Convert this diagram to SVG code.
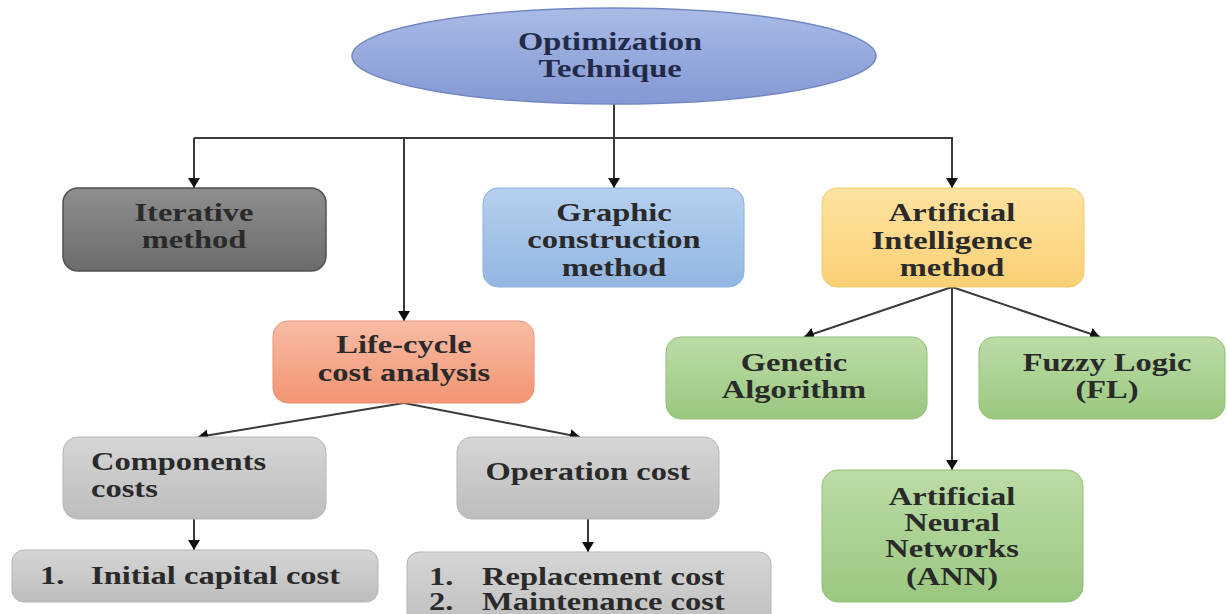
<svg xmlns="http://www.w3.org/2000/svg" width="1227" height="614" viewBox="0 0 1227 614">
<style>
.t{font-family:"Liberation Serif","Times New Roman",serif;font-weight:bold;font-size:25px;fill:#2a2a2a;text-anchor:middle}
.l{text-anchor:start}
.navy{fill:#222a4a}
.c{fill:none;stroke:#3a3a3a;stroke-width:2}
</style>
<defs>
<marker id="ah" viewBox="0 0 10 12" refX="10" refY="6" markerWidth="10" markerHeight="12" markerUnits="userSpaceOnUse" orient="auto">
<path d="M0,0 L10,6 L0,12 z" fill="#111"/>
</marker>
<linearGradient id="gEll" x1="0" y1="0" x2="0" y2="1"><stop offset="0" stop-color="#a9bbe6"/><stop offset="1" stop-color="#8498d3"/></linearGradient>
<linearGradient id="gDark" x1="0" y1="0" x2="0" y2="1"><stop offset="0" stop-color="#8e8e8e"/><stop offset="1" stop-color="#6c6c6c"/></linearGradient>
<linearGradient id="gBlue" x1="0" y1="0" x2="0" y2="1"><stop offset="0" stop-color="#b6d0ef"/><stop offset="1" stop-color="#92b6e2"/></linearGradient>
<linearGradient id="gGold" x1="0" y1="0" x2="0" y2="1"><stop offset="0" stop-color="#fde2a2"/><stop offset="1" stop-color="#fbd074"/></linearGradient>
<linearGradient id="gSalmon" x1="0" y1="0" x2="0" y2="1"><stop offset="0" stop-color="#f9bca4"/><stop offset="1" stop-color="#f29573"/></linearGradient>
<linearGradient id="gGray" x1="0" y1="0" x2="0" y2="1"><stop offset="0" stop-color="#d6d6d6"/><stop offset="1" stop-color="#bdbdbd"/></linearGradient>
<linearGradient id="gGreen" x1="0" y1="0" x2="0" y2="1"><stop offset="0" stop-color="#bcdca6"/><stop offset="1" stop-color="#9ac77f"/></linearGradient>
</defs>
<rect width="1227" height="614" fill="#ffffff"/>

<g id="connectors">
<line class="c" x1="614" y1="104" x2="614" y2="188" marker-end="url(#ah)"/>
<polyline class="c" points="194,138 952,138 952,188" marker-end="url(#ah)"/>
<line class="c" x1="194" y1="138" x2="194" y2="188" marker-end="url(#ah)"/>
<line class="c" x1="404" y1="138" x2="404" y2="321" marker-end="url(#ah)"/>
<line class="c" x1="404" y1="403" x2="198" y2="437" marker-end="url(#ah)"/>
<line class="c" x1="404" y1="403" x2="580" y2="437" marker-end="url(#ah)"/>
<line class="c" x1="194" y1="519" x2="194" y2="550" marker-end="url(#ah)"/>
<line class="c" x1="588" y1="519" x2="588" y2="552" marker-end="url(#ah)"/>
<line class="c" x1="952" y1="287" x2="804" y2="337" marker-end="url(#ah)"/>
<line class="c" x1="952" y1="287" x2="1100" y2="337" marker-end="url(#ah)"/>
<line class="c" x1="952" y1="287" x2="952" y2="470" marker-end="url(#ah)"/>
</g>

<g id="n-optimization">
<ellipse cx="614" cy="56" rx="262" ry="48" fill="url(#gEll)" stroke="#7386c4" stroke-width="1.5"/>
<text class="t navy" transform="translate(610,50) scale(1.3,1)">Optimization</text>
<text class="t navy" transform="translate(610,77) scale(1.3,1)">Technique</text>
</g>

<g id="n-iterative">
<rect x="63" y="188" width="263" height="83" rx="15" fill="url(#gDark)" stroke="#505050" stroke-width="1.5"/>
<text class="t" transform="translate(194,221) scale(1.3,1)">Iterative</text>
<text class="t" transform="translate(194,248) scale(1.3,1)">method</text>
</g>

<g id="n-graphic">
<rect x="483" y="188" width="261" height="99" rx="15" fill="url(#gBlue)" stroke="#8eb0da" stroke-width="1"/>
<text class="t" transform="translate(614,221) scale(1.3,1)">Graphic</text>
<text class="t" transform="translate(614,248) scale(1.3,1)">construction</text>
<text class="t" transform="translate(614,276) scale(1.3,1)">method</text>
</g>

<g id="n-ai">
<rect x="822" y="188" width="262" height="99" rx="15" fill="url(#gGold)" stroke="#f3c96a" stroke-width="1"/>
<text class="t" transform="translate(952,221) scale(1.3,1)">Artificial</text>
<text class="t" transform="translate(952,249) scale(1.3,1)">Intelligence</text>
<text class="t" transform="translate(952,276) scale(1.3,1)">method</text>
</g>

<g id="n-lifecycle">
<rect x="273" y="321" width="261" height="82" rx="15" fill="url(#gSalmon)" stroke="#ec9070" stroke-width="1"/>
<text class="t" transform="translate(404,353) scale(1.3,1)">Life-cycle</text>
<text class="t" transform="translate(404,381) scale(1.3,1)">cost analysis</text>
</g>

<g id="n-components">
<rect x="63" y="437" width="263" height="82" rx="15" fill="url(#gGray)" stroke="#b5b5b5" stroke-width="1"/>
<text class="t l" transform="translate(91,470) scale(1.3,1)">Components</text>
<text class="t l" transform="translate(91,497) scale(1.3,1)">costs</text>
</g>

<g id="n-operation">
<rect x="457" y="437" width="262" height="82" rx="15" fill="url(#gGray)" stroke="#b5b5b5" stroke-width="1"/>
<text class="t" transform="translate(588,480) scale(1.3,1)">Operation cost</text>
</g>

<g id="n-initial">
<rect x="12" y="550" width="366" height="52" rx="12" fill="url(#gGray)" stroke="#b5b5b5" stroke-width="1"/>
<text class="t l" transform="translate(40,584) scale(1.3,1)">1.</text>
<text class="t l" transform="translate(91,584) scale(1.3,1)">Initial capital cost</text>
</g>

<g id="n-replacement">
<rect x="407" y="552" width="364" height="80" rx="12" fill="url(#gGray)" stroke="#b5b5b5" stroke-width="1"/>
<text class="t l" transform="translate(429,585) scale(1.3,1)">1.</text>
<text class="t l" transform="translate(482,585) scale(1.3,1)">Replacement cost</text>
<text class="t l" transform="translate(429,610) scale(1.3,1)">2.</text>
<text class="t l" transform="translate(482,610) scale(1.3,1)">Maintenance cost</text>
</g>

<g id="n-genetic">
<rect x="666" y="337" width="261" height="82" rx="15" fill="url(#gGreen)" stroke="#8fbf74" stroke-width="1"/>
<text class="t" transform="translate(794,371) scale(1.3,1)">Genetic</text>
<text class="t" transform="translate(794,398) scale(1.3,1)">Algorithm</text>
</g>

<g id="n-fuzzy">
<rect x="979" y="337" width="246" height="82" rx="15" fill="url(#gGreen)" stroke="#8fbf74" stroke-width="1"/>
<text class="t" transform="translate(1107,371) scale(1.3,1)">Fuzzy Logic</text>
<text class="t" transform="translate(1107,398) scale(1.3,1)">(FL)</text>
</g>

<g id="n-ann">
<rect x="822" y="470" width="261" height="132" rx="16" fill="url(#gGreen)" stroke="#8fbf74" stroke-width="1"/>
<text class="t" transform="translate(952,505) scale(1.3,1)">Artificial</text>
<text class="t" transform="translate(952,531) scale(1.3,1)">Neural</text>
<text class="t" transform="translate(952,557) scale(1.3,1)">Networks</text>
<text class="t" transform="translate(952,585) scale(1.3,1)">(ANN)</text>
</g>
</svg>
